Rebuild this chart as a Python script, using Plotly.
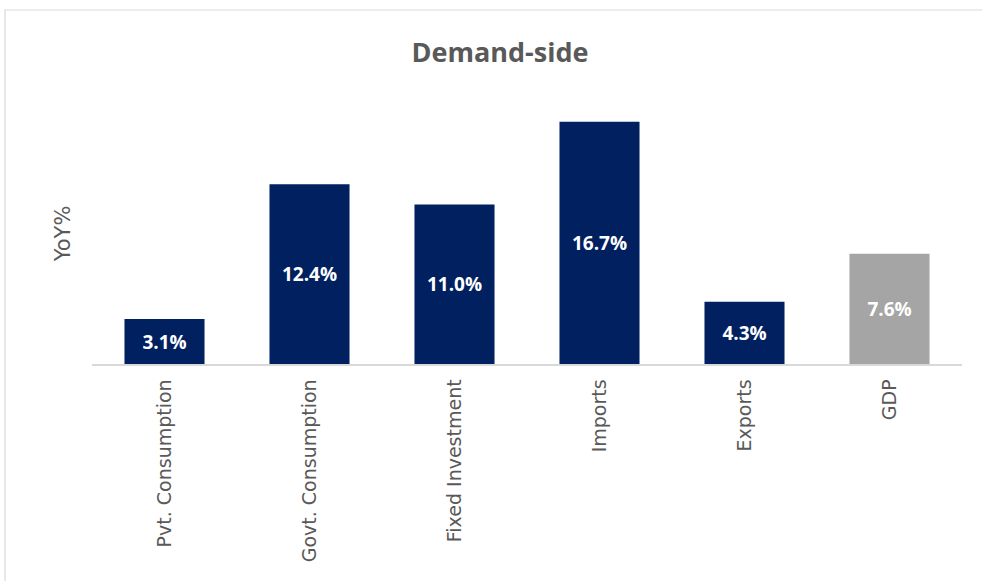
import plotly.graph_objects as go

categories = ["Pvt. Consumption", "Govt. Consumption", "Fixed Investment", "Imports", "Exports", "GDP"]
yoy_values = [3.1, 12.4, 11.0, 16.7, 4.3, 7.6]
bar_colors = ["#002060", "#002060", "#002060", "#002060", "#002060", "#A5A5A5"]

W, H = 982, 581
ml, mr, mt, mb = 92, 20, 103, 217
pw, ph = W - ml - mr, H - mt - mb

fig = go.Figure(
    go.Bar(
        x=categories,
        y=yoy_values,
        marker=dict(color=bar_colors, line=dict(width=0)),
        width=0.552,
        text=[f"{v:.1f}%" for v in yoy_values],
        textposition="inside",
        insidetextanchor="middle",
        textangle=0,
        textfont=dict(family="Open Sans", size=19, color="white", weight="bold"),
        cliponaxis=False,
    )
)

# outer chart frame
fig.add_shape(
    type="rect", xref="paper", yref="paper",
    x0=(5 - ml) / pw, x1=(W + 20 - ml) / pw,
    y0=-(mb + 20) / ph, y1=(H - mb - 10) / ph,
    line=dict(color="#D9D9D9", width=1.2), fillcolor="rgba(0,0,0,0)", layer="below",
)

fig.update_layout(
    width=W, height=H,
    margin=dict(l=ml, r=mr, t=mt, b=mb),
    paper_bgcolor="white", plot_bgcolor="white",
    showlegend=False,
    title=dict(
        text="<b>Demand-side</b>", x=(500 - ml) / pw, xanchor="center", xref="paper",
        y=1 - 53 / H, yanchor="middle",
        font=dict(family="Open Sans", size=27, color="#595959"),
    ),
    xaxis=dict(
        tickangle=-90, showgrid=False, ticks="",
        showline=True, linecolor="#D9D9D9", linewidth=1.5,
        ticklabelstandoff=6,
        tickfont=dict(family="DejaVu Sans", size=19, color="#595959"),
    ),
    yaxis=dict(
        range=[0, 18], showgrid=False, showticklabels=False, zeroline=False,
        title=dict(text="YoY%", font=dict(family="DejaVu Sans", size=21, color="#595959"), standoff=14),
    ),
)

fig.write_html("out.html")
